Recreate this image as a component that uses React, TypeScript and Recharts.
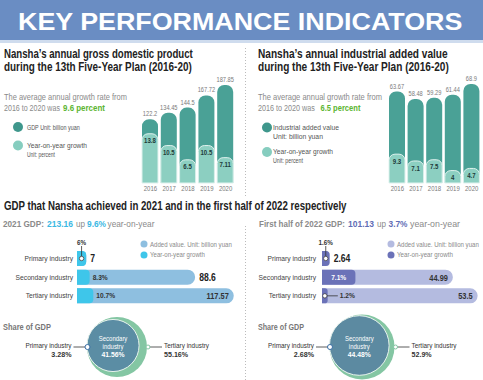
import React from 'react';
import { BarChart, Bar, XAxis, YAxis, LabelList, ScatterChart, Scatter, ZAxis } from 'recharts';

// ---------- data ----------
const gdpYears = ['2016', '2017', '2018', '2019', '2020'];
const gdpValues = [122.2, 134.45, 144.5, 167.72, 187.85];
const gdpGrowth = [13.8, 10.5, 6.5, 10.5, 7.11];

const iavYears = ['2016', '2017', '2018', '2019', '2020'];
const iavValues = [63.67, 58.48, 59.29, 61.44, 68.9];
const iavGrowth = [9.3, 7.1, 7.5, 4, 4.7];

const industries = ['Primary industry', 'Secondary industry', 'Tertiary industry'];
const added2021 = [7, 88.6, 117.57];
const growth2021 = [6, 8.3, 10.7];
const added2022H1 = [2.64, 44.99, 53.5];
const growth2022H1 = [1.6, 7.1, 1.2];

const share2021 = [3.28, 41.56, 55.16];
const share2022H1 = [2.68, 44.48, 52.9];

// ---------- styles ----------
const BASE = "'Liberation Sans', Arial, sans-serif";

let measureCtx: CanvasRenderingContext2D | null = null;
function measure(text: string, size: number, weight: number): number {
  if (!measureCtx) measureCtx = document.createElement('canvas').getContext('2d');
  if (!measureCtx) return text.length * size * 0.55;
  measureCtx.font = `${weight} ${size}px ${BASE}`;
  return measureCtx.measureText(text).width;
}

// condensed svg text (horizontal scale around its anchor)
const SText: React.FC<{
  x: number; y: number; k?: number; anchor?: 'start' | 'middle' | 'end'; size: number;
  weight?: number; fill: string; dy?: string; children: React.ReactNode;
}> = ({ x, y, k = 0.8, anchor = 'start', size, weight = 400, fill, dy, children }) => (
  <text transform={`translate(${x} ${y}) scale(${k} 1)`} x={0} y={0} dy={dy} textAnchor={anchor}
    fontSize={size} fontWeight={weight} fill={fill} fontFamily={BASE}>{children}</text>
);

// static text squeezed to the width
const LT: React.FC<{ x: number; y: number; w: number; size: number; weight?: number; fill: string; t: string }> =
  ({ x, y, w, size, weight = 400, fill, t }) => {
    const k = w / measure(t, size, weight);
    return <SText x={x} y={y} k={k} size={size} weight={weight} fill={fill}>{t}</SText>;
  };

// ---------- vertical year bars ----------
function YearBars(props: {
  left: number; width: number; years: string[]; values: number[]; growth: number[];
  valueMax: number; growthMax: number; dark: string; light: string;
}) {
  const data = props.years.map((y, i) => ({ year: y, value: props.values[i], growth: props.growth[i] }));
  const yearTick = (p: any) => (
    <SText x={p.x} y={p.y} dy="0.71em" anchor="middle" size={7.5} fill="#7a7a7a" k={0.8}>{p.payload.value}</SText>
  );
  const topLabel = (p: any) => (
    <SText x={p.x + p.width / 2} y={p.y - 3} anchor="middle" size={7.5} fill="#7a7a7a" k={0.76}>{p.value}</SText>
  );
  const insideLabel = (p: any) => (
    <SText x={p.x + p.width / 2} y={p.y + 4} dy="0.71em" anchor="middle" size={8} weight={700} fill="#1d3a38" k={0.76}>{p.value}</SText>
  );
  return (
    <div style={{ position: 'absolute', left: props.left, top: 64 }}>
      <BarChart width={props.width} height={133} data={data} margin={{ top: 12, right: 0, left: 0, bottom: 0 }} barSize={16} barGap={-16}>
        <XAxis dataKey="year" axisLine={false} tickLine={false} height={14} interval={0} tickSize={0} tickMargin={3} tick={yearTick} />
        <YAxis yAxisId="v" hide domain={[0, props.valueMax]} />
        <YAxis yAxisId="g" hide domain={[0, props.growthMax]} />
        <Bar yAxisId="v" dataKey="value" fill={props.dark} radius={[7, 7, 0, 0]} isAnimationActive={false}>
          <LabelList dataKey="value" content={topLabel} />
        </Bar>
        <Bar yAxisId="g" dataKey="growth" fill={props.light} stroke="#dff2ee" strokeWidth={1} radius={[6, 6, 0, 0]} isAnimationActive={false}>
          <LabelList dataKey="growth" content={insideLabel} />
        </Bar>
      </BarChart>
    </div>
  );
}

// ---------- horizontal industry bars ----------
function IndustryBars(props: {
  left: number; values: number[]; growth: number[]; valueMax: number; growthMax: number;
  light: string; dark: string; insideMin: number; tickSize: number;
}) {
  const data = industries.map((n, i) => ({ name: n, value: props.values[i], growth: props.growth[i] }));
  const catTick = (p: any) => (
    <SText x={p.x} y={p.y} dy="0.35em" anchor="end" size={8} fill="#444" k={0.84}>{p.payload.value}</SText>
  );
  const valueLabel = (p: any) => {
    const { x, y, width, height, value } = p;
    const cy = y + height / 2;
    if (value >= props.insideMin) {
      return <SText x={x + width - 5} y={cy} dy="0.36em" anchor="end" size={9.5} weight={700} fill="#333" k={0.78}>{value}</SText>;
    }
    return <SText x={x + width + 4} y={cy} dy="0.36em" size={10} weight={700} fill="#222" k={0.86}>{value}</SText>;
  };
  const growthLabel = (p: any) => {
    const { x, y, width, height, value, index } = p;
    const cy = y + height / 2;
    const txt = `${value}%`;
    if (width >= 25) {
      return <SText x={x + width / 2} y={cy} dy="0.36em" anchor="middle" size={7} weight={700} fill="#fff" k={0.95}>{txt}</SText>;
    }
    const dx = x + Math.max(width / 2, 2.5);
    if (index === 0) {
      return (
        <g>
          <line x1={dx} y1={cy} x2={dx} y2={y - 5} stroke="#333" strokeWidth={0.8} />
          <circle cx={dx} cy={cy} r={2.2} fill="#fff" stroke="#444" strokeWidth={0.8} />
          <SText x={dx} y={y - 6} anchor="middle" size={7} weight={700} fill="#333" k={0.9}>{txt}</SText>
        </g>
      );
    }
    if (width < 8) {
      return (
        <g>
          <line x1={dx} y1={cy} x2={dx + 13} y2={cy} stroke="#333" strokeWidth={0.8} />
          <circle cx={dx} cy={cy} r={2.2} fill="#fff" stroke="#444" strokeWidth={0.8} />
          <SText x={dx + 15} y={cy} dy="0.36em" size={7} weight={700} fill="#333" k={0.95}>{txt}</SText>
        </g>
      );
    }
    return <SText x={x + width + 3} y={cy} dy="0.36em" size={7} weight={700} fill="#333" k={0.95}>{txt}</SText>;
  };
  return (
    <div style={{ position: 'absolute', left: props.left, top: 236 }}>
      <BarChart layout="vertical" width={237} height={69} data={data} margin={{ top: 13, right: 0, left: 0, bottom: 0 }} barSize={15} barGap={-15}>
        <XAxis xAxisId="v" type="number" hide domain={[0, props.valueMax]} />
        <XAxis xAxisId="g" type="number" hide domain={[0, props.growthMax]} />
        <YAxis type="category" dataKey="name" width={77} axisLine={false} tickLine={false} interval={0}
          tickSize={props.tickSize} tickMargin={0} tick={catTick} />
        <Bar xAxisId="v" dataKey="value" fill={props.light} radius={[0, 7.5, 7.5, 0]} isAnimationActive={false}>
          <LabelList dataKey="value" content={valueLabel} />
        </Bar>
        <Bar xAxisId="g" dataKey="growth" fill={props.dark} radius={[0, 4, 4, 0]} isAnimationActive={false}>
          <LabelList dataKey="growth" content={growthLabel} />
        </Bar>
      </BarChart>
    </div>
  );
}

// ---------- share circles ----------
function ShareCircles(props: {
  left: number; shares: number[]; r100: number; outer: string; inner: string; ring: string;
}) {
  const [pri, sec, ter] = props.shares;
  const data = [
    { x: 0.5, y: 0.5, z: ter, role: 'outer', name: industries[2] },
    { x: 0.5, y: 0.5, z: sec, role: 'inner', name: industries[1] },
    { x: 0.5, y: 0.5, z: pri, role: 'primary', name: industries[0] },
  ];
  const R = props.r100 * Math.sqrt(ter / 100);
  const shape = (p: any) => {
    const { cx, cy, payload } = p;
    const r = typeof p.size === 'number' && p.size > 0 ? Math.sqrt(p.size / Math.PI) : props.r100 * Math.sqrt(payload.z / 100);
    if (payload.role === 'outer') {
      const dx = cx + R + 1;
      return (
        <g>
          <circle cx={cx} cy={cy} r={R} fill={props.outer} />
          <line x1={dx} y1={cy} x2={dx + 14} y2={cy} stroke="#333" strokeWidth={0.8} />
          <circle cx={dx} cy={cy} r={2} fill="#fff" stroke={props.outer} strokeWidth={1} />
          <SText x={dx + 16} y={cy + 1} size={7.5} fill="#333" k={0.85}>{payload.name}</SText>
          <SText x={dx + 16} y={cy + 9.5} size={7.5} weight={700} fill="#333" k={0.95}>{`${payload.z}%`}</SText>
        </g>
      );
    }
    if (payload.role === 'inner') {
      const ix = cx - R + r;
      return (
        <g>
          <circle cx={ix} cy={cy - 1.5} r={r} fill={props.inner} stroke="#e8f3ee" strokeWidth={1} />
          <SText x={ix} y={cy - 6} anchor="middle" size={7.5} fill="#fff" k={0.8}>Secondary</SText>
          <SText x={ix} y={cy + 1.5} anchor="middle" size={7.5} fill="#fff" k={0.8}>industry</SText>
          <SText x={ix} y={cy + 9.5} anchor="middle" size={8} weight={700} fill="#fff" k={0.85}>{`${payload.z}%`}</SText>
        </g>
      );
    }
    const px = cx - R + 0.5;
    return (
      <g>
        <line x1={px} y1={cy} x2={px - 14} y2={cy} stroke="#333" strokeWidth={0.8} />
        <circle cx={px} cy={cy} r={2.5} fill="#fff" stroke={props.ring} strokeWidth={1} />
        <SText x={px - 16} y={cy + 1} anchor="end" size={7.5} fill="#333" k={0.85}>{payload.name}</SText>
        <SText x={px - 16} y={cy + 9.5} anchor="end" size={7.5} weight={700} fill="#333" k={0.95}>{`${payload.z}%`}</SText>
      </g>
    );
  };
  return (
    <div style={{ position: 'absolute', left: props.left, top: 307 }}>
      <ScatterChart width={234} height={80} margin={{ top: 0, right: 0, left: 0, bottom: 0 }}>
        <XAxis type="number" dataKey="x" hide domain={[0, 1]} />
        <YAxis type="number" dataKey="y" hide domain={[0, 1]} />
        <ZAxis type="number" dataKey="z" domain={[0, 100]} range={[0, Math.PI * props.r100 * props.r100]} />
        <Scatter data={data} shape={shape} isAnimationActive={false} />
      </ScatterChart>
    </div>
  );
}

export default function App() {
  const gray = '#8a8a8a';
  const dark = '#222';
  const legend = '#555';
  const green = '#5cb531';
  const cyan = '#3ab8e3';
  const violet = '#5f6db5';
  return (
    <div style={{ position: 'absolute', left: 0, top: 0, width: 483, height: 380, overflow: 'hidden', background: '#fff' }}>
      <YearBars left={140.5} width={94} years={gdpYears} values={gdpValues} growth={gdpGrowth}
        valueMax={205} growthMax={30} dark="#4aa196" light="#8ccfc1" />
      <YearBars left={388} width={93} years={iavYears} values={iavValues} growth={iavGrowth}
        valueMax={74.5} growthMax={34.5} dark="#4aa196" light="#8ccfc1" />
      <IndustryBars left={0} values={added2021} growth={growth2021} valueMax={120} growthMax={105}
        light="#8ebfe0" dark="#3ec6ea" insideMin={100} tickSize={4} />
      <IndustryBars left={245} values={added2022H1} growth={growth2022H1} valueMax={55} growthMax={34}
        light="#b4bbe0" dark="#6b72b8" insideMin={10} tickSize={6} />
      <ShareCircles left={0} shares={share2021} r100={40.4} outer="#84c6a3" inner="#5b8da4" ring="#3a6ea5" />
      <ShareCircles left={245} shares={share2022H1} r100={44.7} outer="#84c6a3" inner="#5c8aa1" ring="#3a6ea5" />

      <svg width={483} height={380} style={{ position: 'absolute', left: 0, top: 0, pointerEvents: 'none' }}>
        {/* banner */}
        <rect x={0} y={0} width={483} height={40} fill="#6a8dc3" />
        <rect x={0} y={40} width={483} height={3} fill="#cfdcee" />
        <LT x={18} y={30} w={445} size={24} weight={700} fill="#fff" t="KEY PERFORMANCE INDICATORS" />

        {/* separators */}
        <line x1={245.5} y1={48} x2={245.5} y2={196} stroke="#bbb" strokeWidth={1} strokeDasharray="1 2" />
        <line x1={245.5} y1={226} x2={245.5} y2={380} stroke="#bbb" strokeWidth={1} strokeDasharray="1 2" />

        {/* left top */}
        <LT x={4} y={58} w={189} size={12.5} weight={700} fill={dark} t="Nansha’s annual gross domestic product" />
        <LT x={4} y={71} w={188} size={12.5} weight={700} fill={dark} t="during the 13th Five-Year Plan (2016-20)" />
        <LT x={4} y={100} w={123} size={9} fill={gray} t="The average annual growth rate from" />
        <LT x={4} y={110.5} w={56} size={9} fill={gray} t="2016 to 2020 was" />
        <LT x={63} y={110.5} w={42} size={9} weight={700} fill={green} t="9.6 percent" />
        <circle cx={18} cy={127} r={5} fill="#3f978c" />
        <LT x={27} y={129.5} w={53} size={7.5} fill={legend} t="GDP Unit: billion yuan" />
        <circle cx={18} cy={145.5} r={5} fill="#86cdbf" />
        <LT x={27} y={148} w={60} size={7.5} fill={legend} t="Year-on-year growth" />
        <LT x={27} y={157} w={28} size={7.5} fill={legend} t="Unit: percent" />

        {/* right top */}
        <LT x={258} y={58} w={190} size={12.5} weight={700} fill={dark} t="Nansha’s annual industrial added value" />
        <LT x={258} y={71} w={191} size={12.5} weight={700} fill={dark} t="during the 13th Five-Year Plan (2016-20)" />
        <LT x={258} y={100} w={124} size={9} fill={gray} t="The average annual growth rate from" />
        <LT x={258} y={110.5} w={57} size={9} fill={gray} t="2016 to 2020 was" />
        <LT x={320.5} y={110.5} w={40} size={9} weight={700} fill={green} t="6.5 percent" />
        <circle cx={267} cy={127.5} r={5} fill="#3f978c" />
        <LT x={273} y={129.5} w={66} size={7.5} fill={legend} t="Industrial added value" />
        <LT x={273} y={138.5} w={50} size={7.5} fill={legend} t="Unit: billion yuan" />
        <circle cx={267} cy={152} r={5} fill="#86cdbf" />
        <LT x={273} y={153.5} w={60} size={7.5} fill={legend} t="Year-on-year growth" />
        <LT x={273} y={162.5} w={30} size={7.5} fill={legend} t="Unit: percent" />

        {/* bottom header */}
        <LT x={4} y={210} w={343} size={12.5} weight={700} fill={dark} t="GDP that Nansha achieved in 2021 and in the first half of 2022 respectively" />
        <LT x={3} y={227} w={41} size={9} weight={700} fill={gray} t="2021 GDP:" />
        <LT x={47} y={227} w={26} size={9} weight={700} fill={cyan} t="213.16" />
        <LT x={76} y={227} w={9} size={9} fill={gray} t="up" />
        <LT x={87} y={227} w={19} size={9} weight={700} fill={cyan} t="9.6%" />
        <LT x={107.5} y={227} w={47} size={9} fill={gray} t="year-on-year" />
        <LT x={259} y={227} w={86} size={9} weight={700} fill={gray} t="First half of 2022 GDP:" />
        <LT x={348} y={227} w={26} size={9} weight={700} fill={violet} t="101.13" />
        <LT x={377} y={227} w={9} size={9} fill={gray} t="up" />
        <LT x={388.5} y={227} w={19} size={9} weight={700} fill={violet} t="3.7%" />
        <LT x={410} y={227} w={50} size={9} fill={gray} t="year-on-year" />

        {/* bottom legends */}
        <circle cx={144} cy={244} r={3.5} fill="#8ebfe0" />
        <LT x={150} y={246.5} w={82} size={7} fill={gray} t="Added value. Unit: billion yuan" />
        <circle cx={144} cy={255} r={3.5} fill="#3ec6ea" />
        <LT x={150} y={257} w={55} size={7} fill={gray} t="Year-on-year growth" />
        <circle cx={391} cy={244} r={3.5} fill="#b4bbe0" />
        <LT x={397} y={246.5} w={82} size={7} fill={gray} t="Added value. Unit: billion yuan" />
        <circle cx={391} cy={255} r={3.5} fill="#6b72b8" />
        <LT x={397} y={257} w={56} size={7} fill={gray} t="Year-on-year growth" />

        {/* share labels */}
        <LT x={3} y={330} w={48} size={9} weight={700} fill="#777" t="Share of GDP" />
        <LT x={258} y={330} w={46} size={9} weight={700} fill="#777" t="Share of GDP" />
      </svg>
    </div>
  );
}
